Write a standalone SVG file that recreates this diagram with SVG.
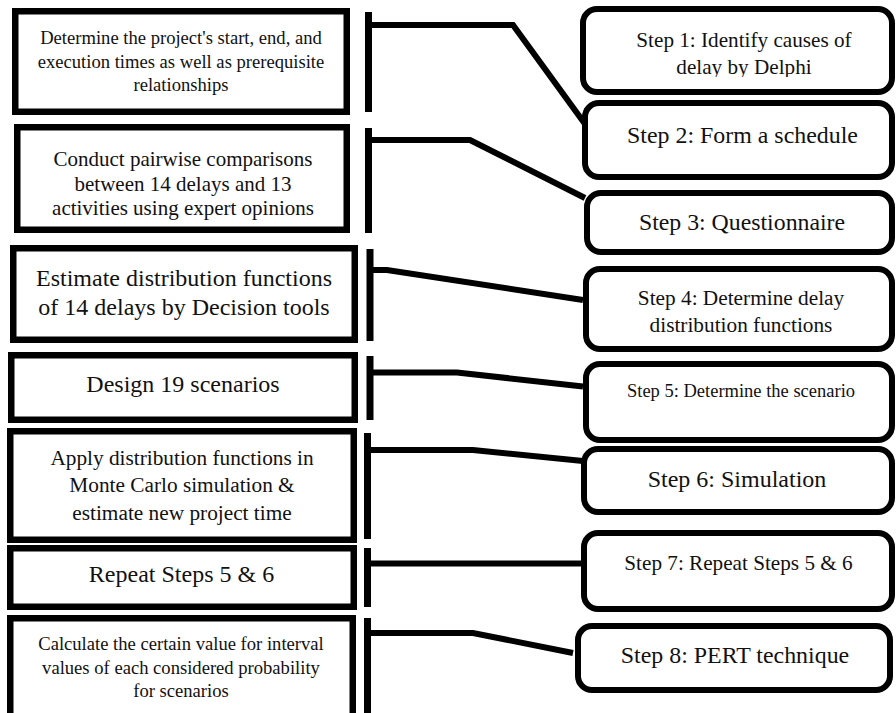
<svg xmlns="http://www.w3.org/2000/svg" width="896" height="713" viewBox="0 0 896 713">
<style>
  .lb { fill: #fff; stroke: #000; stroke-width: 6.5; }
  .rb { fill: #fff; stroke: #000; stroke-width: 6; }
  .t { font-family: "Liberation Serif", "Times New Roman", serif; fill: #111; text-anchor: middle; }
  .conn path { fill: none; stroke: #000; stroke-width: 6; stroke-linejoin: miter; }
  .conn line { stroke: #000; stroke-width: 7; }
</style>
<defs>
  <clipPath id="clip1"><rect x="580" y="0" width="316" height="77"/></clipPath>
</defs>
<rect width="896" height="713" fill="#fff"/>

<g id="box1">
  <rect class="lb" x="15.25" y="11.25" width="331.5" height="100.5"/>
  <text class="t" font-size="18.6" x="181" y="44">Determine the project's start, end, and</text>
  <text class="t" font-size="18.6" x="181" y="68">execution times as well as prerequisite</text>
  <text class="t" font-size="18.6" x="181" y="91">relationships</text>
</g>
<g id="box2">
  <rect class="lb" x="17.25" y="127.25" width="329.5" height="102.5"/>
  <text class="t" font-size="21" x="183" y="166">Conduct pairwise comparisons</text>
  <text class="t" font-size="21" x="183" y="190.5">between 14 delays and 13</text>
  <text class="t" font-size="21" x="183" y="215">activities using expert opinions</text>
</g>
<g id="box3">
  <rect class="lb" x="13.25" y="248.25" width="341.5" height="91.5"/>
  <text class="t" font-size="24" x="184" y="286">Estimate distribution functions</text>
  <text class="t" font-size="24" x="184" y="315">of 14 delays by Decision tools</text>
</g>
<g id="box4">
  <rect class="lb" x="11.25" y="355.25" width="343.5" height="64.5"/>
  <text class="t" font-size="24" x="183" y="392">Design 19 scenarios</text>
</g>
<g id="box5">
  <rect class="lb" x="10.25" y="431.25" width="343.5" height="108.5"/>
  <text class="t" font-size="21.3" x="182" y="465">Apply distribution functions in</text>
  <text class="t" font-size="21.3" x="182" y="492">Monte Carlo simulation &amp;</text>
  <text class="t" font-size="21.3" x="182" y="520">estimate new project time</text>
</g>
<g id="box6">
  <rect class="lb" x="10.25" y="548.25" width="343.5" height="58.5"/>
  <text class="t" font-size="24" x="181.5" y="582">Repeat Steps 5 &amp; 6</text>
</g>
<g id="box7">
  <rect class="lb" x="10.25" y="618.25" width="342.5" height="110"/>
  <text class="t" font-size="18.6" x="181" y="650">Calculate the certain value for interval</text>
  <text class="t" font-size="18.6" x="181" y="674">values of each considered probability</text>
  <text class="t" font-size="18.6" x="181" y="697">for scenarios</text>
</g>

<g id="connectors" class="conn">
  <line x1="368.5" y1="12" x2="368.5" y2="112"/>
  <line x1="368.5" y1="128" x2="368.5" y2="233"/>
  <line x1="370" y1="249" x2="370" y2="341"/>
  <line x1="370" y1="356" x2="370" y2="420"/>
  <line x1="367.5" y1="433" x2="367.5" y2="539"/>
  <line x1="367.5" y1="548" x2="367.5" y2="607"/>
  <line x1="367.5" y1="618" x2="367.5" y2="713"/>
  <path d="M371 25 H513 L585 124"/>
  <path d="M371 140 H470 L585 198"/>
  <path d="M373 270 H387 L583 300"/>
  <path d="M373 372.5 H457 L583 386.5"/>
  <path d="M371 450 H473 L583 461"/>
  <path d="M371 563.5 H581"/>
  <path d="M371 633 H473 L573 653"/>
</g>

<g id="step1">
  <rect class="rb" x="583" y="9" width="309" height="83" rx="14"/>
  <text class="t" font-size="21.2" x="744" y="46.5">Step 1: Identify causes of</text>
  <text class="t" font-size="21.2" x="744" y="74" clip-path="url(#clip1)">delay by Delphi</text>
</g>
<g id="step2">
  <rect class="rb" x="585" y="103" width="307" height="74" rx="14"/>
  <text class="t" font-size="23.9" x="742.5" y="143">Step 2: Form a schedule</text>
</g>
<g id="step3">
  <rect class="rb" x="587" y="193" width="305" height="59" rx="14"/>
  <text class="t" font-size="23.8" x="742" y="230">Step 3: Questionnaire</text>
</g>
<g id="step4">
  <rect class="rb" x="586" y="269" width="306" height="80" rx="14"/>
  <text class="t" font-size="21.3" x="741" y="305">Step 4: Determine delay</text>
  <text class="t" font-size="21.3" x="741" y="332">distribution functions</text>
</g>
<g id="step5">
  <rect class="rb" x="586" y="364" width="306" height="76" rx="14"/>
  <text class="t" font-size="18.5" x="741" y="397">Step 5: Determine the scenario</text>
</g>
<g id="step6">
  <rect class="rb" x="584" y="449" width="308" height="63" rx="14"/>
  <text class="t" font-size="24" x="737" y="487">Step 6: Simulation</text>
</g>
<g id="step7">
  <rect class="rb" x="584" y="533" width="308" height="76" rx="14"/>
  <text class="t" font-size="21.2" x="738.5" y="570">Step 7: Repeat Steps 5 &amp; 6</text>
</g>
<g id="step8">
  <rect class="rb" x="578" y="626" width="312" height="64" rx="14"/>
  <text class="t" font-size="23.9" x="735" y="663">Step 8: PERT technique</text>
</g>
</svg>
